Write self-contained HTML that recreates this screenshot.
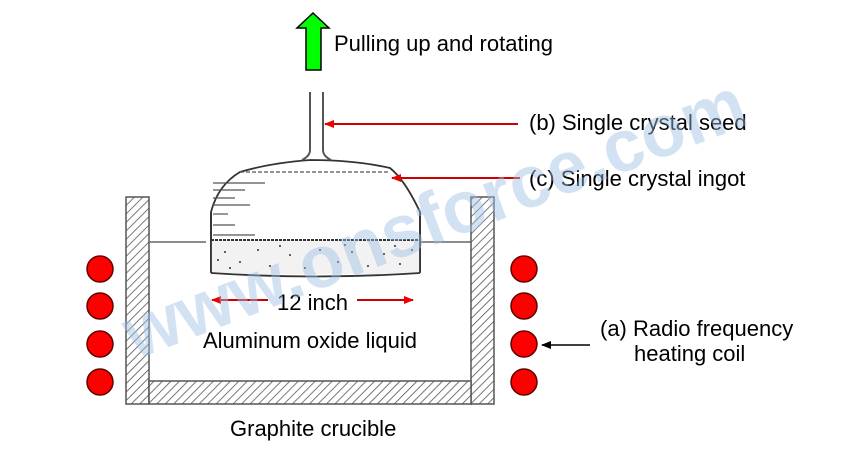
<!DOCTYPE html>
<html><head><meta charset="utf-8"><style>
html,body{margin:0;padding:0;background:#fff;width:860px;height:450px;overflow:hidden}
svg{display:block}
text{font-family:"Liberation Sans",Arial,sans-serif;font-size:22px;fill:#000}
</style></head><body>
<svg width="860" height="450" viewBox="0 0 860 450" xmlns="http://www.w3.org/2000/svg">
<defs>
<pattern id="h" width="6" height="6" patternUnits="userSpaceOnUse" patternTransform="rotate(45)">
<rect width="6" height="6" fill="#fff"/><line x1="0" y1="0" x2="0" y2="6" stroke="#555" stroke-width="1.6"/></pattern>
<marker id="a" markerWidth="10" markerHeight="8" refX="9" refY="4" orient="auto" markerUnits="userSpaceOnUse"><path d="M0,0 L10,4 L0,8z" fill="#e00"/></marker>
<marker id="k" markerWidth="10" markerHeight="8" refX="9" refY="4" orient="auto" markerUnits="userSpaceOnUse"><path d="M0,0 L10,4 L0,8z" fill="#000"/></marker>
</defs>
<!-- crucible -->
<rect x="126" y="197" width="23" height="207" fill="url(#h)" stroke="#555" stroke-width="1.5"/>
<rect x="471" y="197" width="23" height="207" fill="url(#h)" stroke="#555" stroke-width="1.5"/>
<rect x="149" y="381" width="322" height="23" fill="url(#h)" stroke="#555" stroke-width="1.5"/>
<line x1="149" y1="242" x2="206" y2="242" stroke="#666" stroke-width="1.5"/>
<line x1="420" y1="242" x2="471" y2="242" stroke="#666" stroke-width="1.5"/>
<!-- ingot -->
<path d="M211,272 L211,212 Q218,185 240,172 Q270,163 310,160 Q355,160 390,168 Q405,180 420,212 L420,272" fill="#fff" stroke="#333" stroke-width="1.8"/>
<rect x="211" y="240" width="209" height="34" fill="#f2f2f2" stroke="none"/>
<line x1="211" y1="240" x2="420" y2="240" stroke="#333" stroke-width="2" stroke-dasharray="3,1"/>
<path d="M211,273 Q315,280 420,273" fill="none" stroke="#333" stroke-width="1.8"/>
<line x1="211" y1="212" x2="211" y2="273" stroke="#333" stroke-width="1.8"/>
<line x1="420" y1="212" x2="420" y2="273" stroke="#333" stroke-width="1.8"/>
<g fill="#333">
<circle cx="225" cy="252" r="1"/><circle cx="240" cy="262" r="1"/><circle cx="258" cy="250" r="1"/><circle cx="270" cy="266" r="1"/><circle cx="290" cy="255" r="1"/><circle cx="305" cy="268" r="1"/><circle cx="320" cy="250" r="1"/><circle cx="338" cy="262" r="1"/><circle cx="352" cy="252" r="1"/><circle cx="368" cy="266" r="1"/><circle cx="384" cy="254" r="1"/><circle cx="400" cy="264" r="1"/><circle cx="412" cy="250" r="1"/><circle cx="230" cy="268" r="1"/><circle cx="280" cy="246" r="1"/><circle cx="345" cy="245" r="1"/><circle cx="395" cy="246" r="1"/><circle cx="218" cy="260" r="1"/>
</g>
<g stroke="#555" stroke-width="1.2">
<line x1="213" y1="183" x2="265" y2="183"/><line x1="213" y1="190" x2="245" y2="190"/><line x1="213" y1="198" x2="235" y2="198"/><line x1="213" y1="205" x2="250" y2="205"/><line x1="213" y1="214" x2="228" y2="214"/><line x1="213" y1="225" x2="235" y2="225"/><line x1="213" y1="235" x2="255" y2="235"/><line x1="240" y1="172" x2="390" y2="172" stroke-dasharray="4,2"/>
</g>
<!-- seed -->
<path d="M310,92 L310,150 Q310,156 302,160 M323,92 L323,150 Q323,156 331,160" fill="none" stroke="#555" stroke-width="2"/>
<!-- green arrow -->
<path d="M313,13 L329,28 L321,28 L321,70 L306,70 L306,28 L297,28z" fill="#00ff00" stroke="#000" stroke-width="1.5"/>
<text x="334" y="51">Pulling up and rotating</text>
<!-- labels -->
<line x1="518" y1="124" x2="325" y2="124" stroke="#c00" stroke-width="2" marker-end="url(#a)"/>
<text x="529" y="130">(b) Single crystal seed</text>
<line x1="520" y1="178" x2="392" y2="178" stroke="#c00" stroke-width="2" marker-end="url(#a)"/>
<text x="529" y="186">(c) Single crystal ingot</text>
<line x1="268" y1="300" x2="212" y2="300" stroke="#c00" stroke-width="2" marker-end="url(#a)"/>
<line x1="357" y1="300" x2="413" y2="300" stroke="#c00" stroke-width="2" marker-end="url(#a)"/>
<text x="277" y="310">12 inch</text>
<text x="203" y="348">Aluminum oxide liquid</text>
<text x="230" y="436">Graphite crucible</text>
<line x1="590" y1="345" x2="542" y2="345" stroke="#000" stroke-width="1.5" marker-end="url(#k)"/>
<text x="600" y="336">(a) Radio frequency</text>
<text x="634" y="361">heating coil</text>
<g fill="#ff0000" stroke="#600" stroke-width="1.5">
<circle cx="100" cy="269" r="13"/><circle cx="100" cy="306" r="13"/><circle cx="100" cy="344" r="13"/><circle cx="100" cy="382" r="13"/>
<circle cx="524" cy="269" r="13"/><circle cx="524" cy="306" r="13"/><circle cx="524" cy="344" r="13"/><circle cx="524" cy="382" r="13"/>
</g>
<text transform="translate(135,360) rotate(-21)" style="font-size:74px;font-weight:bold;fill:#9fc0e4;opacity:0.45" textLength="660" lengthAdjust="spacingAndGlyphs">www.onsforce.com</text>
</svg>
</body></html>
